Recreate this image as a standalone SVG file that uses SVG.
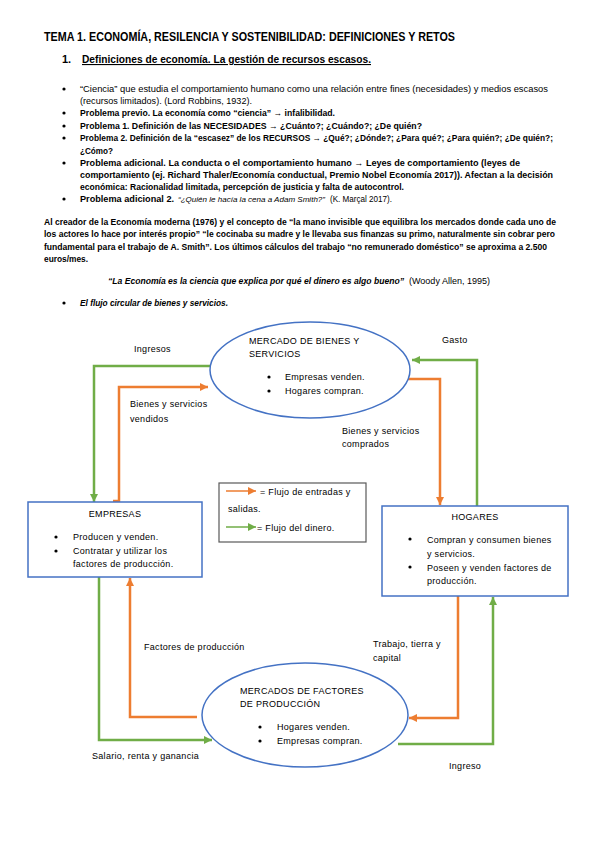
<svg xmlns="http://www.w3.org/2000/svg" width="599" height="848" viewBox="0 0 599 848">
<style>
.t{font-family:"Liberation Sans",Arial,sans-serif;fill:#000}
.h{font-size:12px;font-weight:bold}
.b{font-size:9px}
.bb{font-size:9px;font-weight:bold}
.d{font-size:9px;letter-spacing:0.3px}
.go{fill:none;stroke:#ED7D31;stroke-width:2.5}
.gg{fill:none;stroke:#70AD47;stroke-width:2.5}
.node{fill:#fff;stroke:#4472C4;stroke-width:1.5}
</style>
<defs>
<marker id="ao" markerUnits="userSpaceOnUse" markerWidth="9" markerHeight="8" refX="8" refY="4" orient="auto"><path d="M0,0 L8,4 L0,8 Z" fill="#ED7D31"/></marker>
<marker id="ag" markerUnits="userSpaceOnUse" markerWidth="9" markerHeight="8" refX="8" refY="4" orient="auto"><path d="M0,0 L8,4 L0,8 Z" fill="#70AD47"/></marker>
</defs>
<rect width="599" height="848" fill="#fff"/>
<g id="texto">
<text class="t h" x="44" y="41" textLength="411" lengthAdjust="spacingAndGlyphs">TEMA 1. ECONOMÍA, RESILENCIA Y SOSTENIBILIDAD: DEFINICIONES Y RETOS</text>
<text class="t" x="62" y="63" style="font-size:11px;font-weight:bold">1.</text>
<text class="t" x="82" y="63" style="font-size:11px;font-weight:bold;text-decoration:underline" textLength="289" lengthAdjust="spacingAndGlyphs">Definiciones de economía. La gestión de recursos escasos.</text>
<g class="t b">
<circle cx="64" cy="89" r="1.6"/><circle cx="64" cy="113" r="1.6"/><circle cx="64" cy="126" r="1.6"/><circle cx="64" cy="138" r="1.6"/><circle cx="64" cy="163" r="1.6"/><circle cx="64" cy="199" r="1.6"/><circle cx="64" cy="303" r="1.6"/>
</g>
<text class="t b" x="80" y="92" textLength="468" lengthAdjust="spacingAndGlyphs">“Ciencia” que estudia el comportamiento humano como una relación entre fines (necesidades) y medios escasos</text>
<text class="t b" x="80" y="104" textLength="172" lengthAdjust="spacingAndGlyphs">(recursos limitados). (Lord Robbins, 1932).</text>
<text class="t bb" x="80" y="116" textLength="255" lengthAdjust="spacingAndGlyphs">Problema previo. La economía como “ciencia” → infalibilidad.</text>
<text class="t bb" x="80" y="129" textLength="342" lengthAdjust="spacingAndGlyphs">Problema 1. Definición de las NECESIDADES → ¿Cuánto?; ¿Cuándo?; ¿De quién?</text>
<text class="t bb" x="80" y="141" textLength="473" lengthAdjust="spacingAndGlyphs">Problema 2. Definición de la “escasez” de los RECURSOS → ¿Qué?; ¿Dónde?; ¿Para qué?; ¿Para quién?; ¿De quién?;</text>
<text class="t bb" x="80" y="154" textLength="33" lengthAdjust="spacingAndGlyphs">¿Cómo?</text>
<text class="t bb" x="80" y="166" textLength="440" lengthAdjust="spacingAndGlyphs">Problema adicional. La conducta o el comportamiento humano → Leyes de comportamiento (leyes de</text>
<text class="t bb" x="80" y="178" textLength="473" lengthAdjust="spacingAndGlyphs">comportamiento (ej. Richard Thaler/Economía conductual, Premio Nobel Economía 2017)). Afectan a la decisión</text>
<text class="t bb" x="80" y="190" textLength="324" lengthAdjust="spacingAndGlyphs">económica: Racionalidad limitada, percepción de justicia y falta de autocontrol.</text>
<text class="t bb" x="80" y="202" textLength="94" lengthAdjust="spacingAndGlyphs">Problema adicional 2.</text>
<text class="t" x="178" y="202" font-style="italic" font-size="8" textLength="147" lengthAdjust="spacingAndGlyphs">“¿Quién le hacía la cena a Adam Smith?”</text>
<text class="t b" x="330" y="202" textLength="62" lengthAdjust="spacingAndGlyphs">(K. Marçal 2017).</text>
<text class="t bb" x="44" y="225" textLength="512" lengthAdjust="spacingAndGlyphs">Al creador de la Economía moderna (1976) y el concepto de “la mano invisible que equilibra los mercados donde cada uno de</text>
<text class="t bb" x="44" y="237" textLength="511" lengthAdjust="spacingAndGlyphs">los actores lo hace por interés propio” “le cocinaba su madre y le llevaba sus finanzas su primo, naturalmente sin cobrar pero</text>
<text class="t bb" x="44" y="250" textLength="503" lengthAdjust="spacingAndGlyphs">fundamental para el trabajo de A. Smith”. Los últimos cálculos del trabajo “no remunerado doméstico” se aproxima a 2.500</text>
<text class="t bb" x="44" y="262" textLength="44" lengthAdjust="spacingAndGlyphs">euros/mes.</text>
<text class="t" x="108" y="284" font-style="italic" font-weight="bold" font-size="8.5" textLength="296" lengthAdjust="spacingAndGlyphs">“La Economía es la ciencia que explica por qué el dinero es algo bueno”</text>
<text class="t b" x="409" y="284" textLength="81" lengthAdjust="spacingAndGlyphs">(Woody Allen, 1995)</text>
<text class="t bb" x="80" y="306" font-style="italic" textLength="148" lengthAdjust="spacingAndGlyphs">El flujo circular de bienes y servicios.</text>
</g>
<g id="conectores">
<path class="gg" d="M215,366 H94 V502" marker-end="url(#ag)"/>
<path class="go" d="M113,501 H119 V387 H208" marker-end="url(#ao)"/>
<path class="gg" d="M477,507 V360 H412" marker-end="url(#ag)"/>
<path class="go" d="M405,379 H440 V505" marker-end="url(#ao)"/>
<path class="gg" d="M99,577 V740 H212" marker-end="url(#ag)"/>
<path class="go" d="M197,717 H130 V578" marker-end="url(#ao)"/>
<path class="go" d="M458,596 V718 H409" marker-end="url(#ao)"/>
<path class="gg" d="M398,744 H493 V597" marker-end="url(#ag)"/>
</g>
<g id="etiquetas" class="t d">
<text x="134" y="352">Ingresos</text>
<text x="442" y="343">Gasto</text>
<text x="130" y="407">Bienes y servicios</text>
<text x="130" y="422">vendidos</text>
<text x="342" y="434">Bienes y servicios</text>
<text x="342" y="447">comprados</text>
<text x="144" y="650">Factores de producción</text>
<text x="373" y="647">Trabajo, tierra y</text>
<text x="373" y="661">capital</text>
<text x="92" y="759">Salario, renta y ganancia</text>
<text x="449" y="769">Ingreso</text>
</g>
<g id="mercado-bienes">
<ellipse class="node" cx="310" cy="370" rx="100" ry="48"/>
<g class="t d">
<text x="249" y="344">MERCADO DE BIENES Y</text>
<text x="249" y="357">SERVICIOS</text>
<circle cx="269" cy="377" r="1.6"/><circle cx="269" cy="391" r="1.6"/>
<text x="285" y="380">Empresas venden.</text>
<text x="285" y="394">Hogares compran.</text>
</g>
</g>
<g id="leyenda">
<rect x="219" y="483" width="147" height="59" fill="#fff" stroke="#595959" stroke-width="1.2"/>
<path d="M226,491 H256" stroke="#ED7D31" stroke-width="1.5" fill="none" marker-end="url(#ao)"/>
<path d="M226,527 H256" stroke="#70AD47" stroke-width="1.5" fill="none" marker-end="url(#ag)"/>
<g class="t d">
<text x="260" y="495">= Flujo de entradas y</text>
<text x="228" y="512">salidas.</text>
<text x="257" y="531">= Flujo del dinero.</text>
</g>
</g>
<g id="empresas">
<rect class="node" x="28" y="502" width="174" height="75"/>
<g class="t d">
<text x="115" y="517" text-anchor="middle">EMPRESAS</text>
<circle cx="56" cy="537" r="1.6"/><circle cx="56" cy="551" r="1.6"/>
<text x="73" y="540">Producen y venden.</text>
<text x="73" y="554">Contratar y utilizar los</text>
<text x="73" y="567">factores de producción.</text>
</g>
</g>
<g id="hogares">
<rect class="node" x="382" y="506" width="186" height="90"/>
<g class="t d">
<text x="475" y="520" text-anchor="middle">HOGARES</text>
<circle cx="410" cy="539" r="1.6"/><circle cx="410" cy="567" r="1.6"/>
<text x="427" y="543">Compran y consumen bienes</text>
<text x="427" y="557">y servicios.</text>
<text x="427" y="571">Poseen y venden factores de</text>
<text x="427" y="584">producción.</text>
</g>
</g>
<g id="mercado-factores">
<ellipse class="node" cx="305" cy="715" rx="103" ry="52"/>
<g class="t d">
<text x="240" y="694">MERCADOS DE FACTORES</text>
<text x="240" y="707">DE PRODUCCIÓN</text>
<circle cx="260" cy="727" r="1.6"/><circle cx="260" cy="741" r="1.6"/>
<text x="277" y="730">Hogares venden.</text>
<text x="277" y="744">Empresas compran.</text>
</g>
</g>
</svg>
